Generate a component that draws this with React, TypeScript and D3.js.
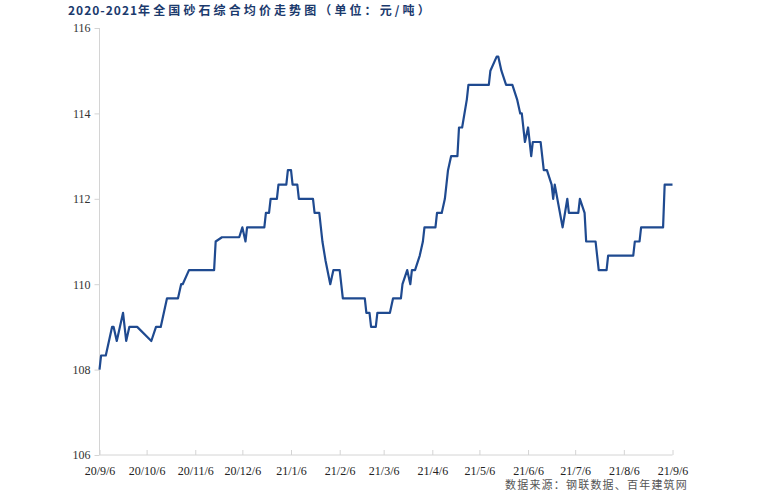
import { useEffect, useRef } from 'react'
import * as d3 from 'd3'

// Title and source note
const TITLE_YEARS = '2020-2021'
const TITLE_REST = '年全国砂石综合均价走势图（单位：元/吨）'
const SOURCE_NOTE = '数据来源：钢联数据、百年建筑网'

// Sampled trading days (start/end of each flat run) and the average price (元/吨)
const priceDates = [
  '2020-09-06', '2020-09-07', '2020-09-10', '2020-09-14', '2020-09-15', '2020-09-17',
  '2020-09-21', '2020-09-23', '2020-09-25', '2020-09-30', '2020-10-09', '2020-10-12',
  '2020-10-15', '2020-10-19', '2020-10-26', '2020-10-28', '2020-10-29', '2020-11-02',
  '2020-11-18', '2020-11-19', '2020-11-23', '2020-12-04', '2020-12-06', '2020-12-08',
  '2020-12-09', '2020-12-20', '2020-12-21', '2020-12-23', '2020-12-24', '2020-12-28',
  '2020-12-29', '2021-01-03', '2021-01-04', '2021-01-06', '2021-01-07', '2021-01-10',
  '2021-01-11', '2021-01-20', '2021-01-21', '2021-01-24', '2021-01-26', '2021-01-28',
  '2021-01-31', '2021-02-02', '2021-02-06', '2021-02-08', '2021-02-22', '2021-02-23',
  '2021-02-25', '2021-02-26', '2021-03-01', '2021-03-02', '2021-03-10', '2021-03-12',
  '2021-03-17', '2021-03-18', '2021-03-21', '2021-03-23', '2021-03-24', '2021-03-26',
  '2021-03-29', '2021-03-31', '2021-04-01', '2021-04-08', '2021-04-09', '2021-04-12',
  '2021-04-14', '2021-04-16', '2021-04-18', '2021-04-22', '2021-04-23', '2021-04-25',
  '2021-04-28', '2021-04-29', '2021-05-12', '2021-05-13', '2021-05-17', '2021-05-18',
  '2021-05-20', '2021-05-23', '2021-05-27', '2021-05-30', '2021-06-01', '2021-06-02',
  '2021-06-04', '2021-06-06', '2021-06-08', '2021-06-09', '2021-06-14', '2021-06-16',
  '2021-06-18', '2021-06-21', '2021-06-22', '2021-06-23', '2021-06-28', '2021-07-01',
  '2021-07-02', '2021-07-08', '2021-07-09', '2021-07-12', '2021-07-13', '2021-07-19',
  '2021-07-21', '2021-07-26', '2021-07-27', '2021-08-12', '2021-08-13', '2021-08-16',
  '2021-08-17', '2021-08-31', '2021-09-01', '2021-09-06',
]

const priceValues = [
  108, 108.33, 108.33, 109, 109, 108.67,
  109.33, 108.67, 109, 109, 108.67, 109,
  109, 109.67, 109.67, 110, 110, 110.33,
  110.33, 111, 111.1, 111.1, 111.33, 111,
  111.33, 111.33, 111.67, 111.67, 112, 112,
  112.33, 112.33, 112.67, 112.67, 112.33, 112.33,
  112, 112, 111.67, 111.67, 111, 110.55,
  110, 110.33, 110.33, 109.67, 109.67, 109.33,
  109.33, 109, 109, 109.33, 109.33, 109.67,
  109.67, 110, 110.33, 110, 110.33, 110.33,
  110.67, 111, 111.33, 111.33, 111.67, 111.67,
  112, 112.67, 113, 113, 113.67, 113.67,
  114.33, 114.67, 114.67, 115, 115.33, 115.33,
  115, 114.67, 114.67, 114.33, 114, 114,
  113.33, 113.67, 113, 113.33, 113.33, 112.67,
  112.67, 112.33, 112, 112.33, 111.33, 112,
  111.67, 111.67, 112, 111.67, 111, 111,
  110.33, 110.33, 110.67, 110.67, 111, 111,
  111.33, 111.33, 112.33, 112.33,
]

// Axis ticks
const xTickDates = [
  '2020-09-06', '2020-10-06', '2020-11-06', '2020-12-06', '2021-01-06', '2021-02-06',
  '2021-03-06', '2021-04-06', '2021-05-06', '2021-06-06', '2021-07-06', '2021-08-06',
  '2021-09-06',
]
const xTickLabels = [
  '20/9/6', '20/10/6', '20/11/6', '20/12/6', '21/1/6', '21/2/6',
  '21/3/6', '21/4/6', '21/5/6', '21/6/6', '21/7/6', '21/8/6', '21/9/6',
]
const yTicks = [106, 108, 110, 112, 114, 116]

const WIDTH = 779
const HEIGHT = 495
const LINE_COLOR = '#1f4a90'
const AXIS_COLOR = '#d4d4d4'

export default function App() {
  const svgRef = useRef<SVGSVGElement>(null)

  useEffect(() => {
    if (!svgRef.current) return
    const svg = d3.select(svgRef.current)
    svg.selectAll('*').remove()

    const parse = d3.utcParse('%Y-%m-%d')
    const data = priceDates.map((d, i) => ({ date: parse(d)!, value: priceValues[i] }))

    const x = d3.scaleUtc()
      .domain([parse(xTickDates[0])!, parse(xTickDates[xTickDates.length - 1])!])
      .range([99.5, 672.5])

    const y = d3.scaleLinear()
      .domain([106, 116])
      .range([455, 28])

    // Title
    const title = svg.append('text')
      .attr('x', 68)
      .attr('y', 15)
      .attr('fill', '#1b3a6d')
      .attr('font-family', '"Noto Sans CJK SC", sans-serif')
      .attr('font-size', 12)
      .attr('font-weight', 'bold')
    title.append('tspan').attr('letter-spacing', 1).text(TITLE_YEARS)
    title.append('tspan').attr('letter-spacing', 3.1).text(TITLE_REST)

    // Y axis
    const yAxis = svg.append('g')
      .attr('transform', `translate(${x.range()[0]},0)`)
      .call(d3.axisLeft(y).tickValues(yTicks).tickSize(5).tickPadding(4).tickFormat(d3.format('d')))
    yAxis.select('.domain').attr('stroke', AXIS_COLOR).attr('d', `M0,${y(116)}V${y(106)}`)
    yAxis.selectAll('.tick line').attr('stroke', AXIS_COLOR)
    yAxis.selectAll('.tick text')
      .attr('fill', '#333')
      .attr('font-family', '"Liberation Serif", serif')
      .attr('font-size', 12)

    // X axis (ticks point inward)
    const xAxis = svg.append('g')
      .attr('transform', `translate(0,${y(106)})`)
      .call(d3.axisBottom(x)
        .tickValues(xTickDates.map(d => parse(d)!))
        .tickSize(0)
        .tickPadding(11)
        .tickFormat((_, i) => xTickLabels[i]))
    xAxis.select('.domain').attr('stroke', AXIS_COLOR).attr('d', `M${x.range()[0]},0H${x.range()[1]}`)
    xAxis.selectAll('.tick')
      .append('line')
      .attr('y1', 0)
      .attr('y2', -5)
      .attr('stroke', AXIS_COLOR)
    xAxis.selectAll('.tick text')
      .attr('fill', '#222')
      .attr('font-family', '"Liberation Serif", serif')
      .attr('font-size', 12)

    // Price line
    const line = d3.line<{ date: Date; value: number }>()
      .x(d => x(d.date))
      .y(d => y(d.value))

    svg.append('path')
      .datum(data)
      .attr('fill', 'none')
      .attr('stroke', LINE_COLOR)
      .attr('stroke-width', 2.2)
      .attr('stroke-linejoin', 'round')
      .attr('d', line)

    // Source note
    svg.append('text')
      .attr('x', 688)
      .attr('y', 489)
      .attr('text-anchor', 'end')
      .attr('fill', '#555')
      .attr('font-family', '"Noto Sans CJK SC", sans-serif')
      .attr('font-size', 11)
      .attr('letter-spacing', 1.2)
      .text(SOURCE_NOTE)
  }, [])

  return (
    <svg
      ref={svgRef}
      width={WIDTH}
      height={HEIGHT}
      style={{ position: 'absolute', left: 0, top: 0, background: '#fff' }}
    />
  )
}
